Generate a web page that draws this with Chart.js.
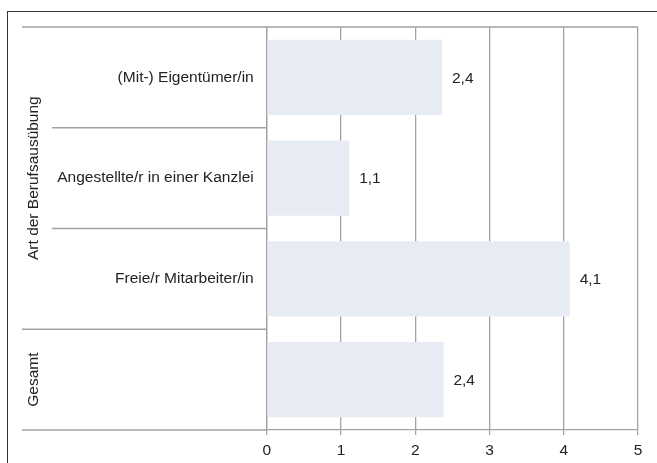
<!DOCTYPE html>
<html>
<head>
<meta charset="utf-8">
<script src="https://cdn.jsdelivr.net/npm/chart.js@4/dist/chart.umd.min.js"></script>
<style>
  html, body { margin: 0; padding: 0; background: #fff; }
  #wrap { width: 657px; height: 463px; }
</style>
</head>
<body>
<div id="wrap"><canvas id="chart" width="657" height="463"></canvas></div>
<script>
const categories = ['(Mit-) Eigentümer/in', 'Angestellte/r in einer Kanzlei', 'Freie/r Mitarbeiter/in', ''];
const values = [2.36, 1.11, 4.08, 2.38];
const valueLabels = ['2,4', '1,1', '4,1', '2,4'];
const groups = [
  { label: 'Art der Berufsausübung', from: 0, to: 2 },
  { label: 'Gesamt', from: 3, to: 3 },
];
const xTicks = [0, 1, 2, 3, 4, 5];

const FONT = "'Liberation Sans', Arial, sans-serif";
const SIZE = 15.5;
const LINE = '#a3a3a3';
const TEXT = '#222';

// Draws the outer frame, left label table and value labels
const tablePlugin = {
  id: 'table',
  afterDraw(chart) {
    const { ctx, chartArea, scales } = chart;
    const y = scales.y;
    const half = (y.getPixelForValue(1) - y.getPixelForValue(0)) / 2;
    const colA = 22, colB = 52;
    ctx.save();
    ctx.strokeStyle = LINE;
    ctx.lineWidth = 1.3;
    ctx.beginPath();
    ctx.moveTo(colA, chartArea.top); ctx.lineTo(chartArea.right, chartArea.top);
    ctx.moveTo(colA, chartArea.bottom); ctx.lineTo(chartArea.left, chartArea.bottom);
    for (let i = 0; i < categories.length - 1; i++) {
      const py = y.getPixelForValue(i) + half;
      const isGroupEnd = groups.some((g) => g.to === i);
      ctx.moveTo(isGroupEnd ? colA : colB, py);
      ctx.lineTo(chartArea.left, py);
    }
    ctx.stroke();

    // outer frame
    ctx.strokeStyle = '#333';
    ctx.lineWidth = 1;
    ctx.strokeRect(7.5, 11.5, 660, 470);

    // group labels
    ctx.fillStyle = TEXT;
    ctx.font = `${SIZE}px ${FONT}`;
    ctx.textAlign = 'center';
    ctx.textBaseline = 'middle';
    groups.forEach((g) => {
      const cy = (y.getPixelForValue(g.from) - half + y.getPixelForValue(g.to) + half) / 2;
      ctx.save();
      ctx.translate(34, cy);
      ctx.rotate(-Math.PI / 2);
      ctx.fillText(g.label, 0, 0);
      ctx.restore();
    });

    // value labels
    ctx.textAlign = 'left';
    const meta = chart.getDatasetMeta(0);
    meta.data.forEach((bar, i) => {
      ctx.fillText(valueLabels[i], bar.x + 10, bar.y + 1);
    });
    ctx.restore();
  },
};

new Chart(document.getElementById('chart'), {
  type: 'bar',
  data: {
    labels: categories,
    datasets: [{
      data: values,
      backgroundColor: '#e7ecf4',
      borderWidth: 0,
      categoryPercentage: 1,
      barPercentage: 0.745,
    }],
  },
  options: {
    indexAxis: 'y',
    responsive: false,
    animation: false,
    devicePixelRatio: 1,
    layout: { padding: { top: 27, right: 19, left: 0, bottom: 0 } },
    plugins: { legend: { display: false }, tooltip: { enabled: false } },
    scales: {
      x: {
        min: 0,
        max: 5,
        afterBuildTicks: (scale) => { scale.ticks = xTicks.map((v) => ({ value: v })); },
        afterFit: (scale) => { scale.height = 33; },
        grid: { color: LINE, lineWidth: 1.3, tickLength: 5, drawTicks: true },
        border: { color: LINE, width: 1.3 },
        ticks: { color: TEXT, font: { family: FONT, size: SIZE }, padding: 6 },
      },
      y: {
        afterFit: (scale) => { scale.width = 266.7; },
        grid: { display: false },
        border: { color: LINE, width: 1.3 },
        ticks: { color: TEXT, font: { family: FONT, size: SIZE }, padding: 5 },
      },
    },
  },
  plugins: [tablePlugin],
});
</script>
</body>
</html>
